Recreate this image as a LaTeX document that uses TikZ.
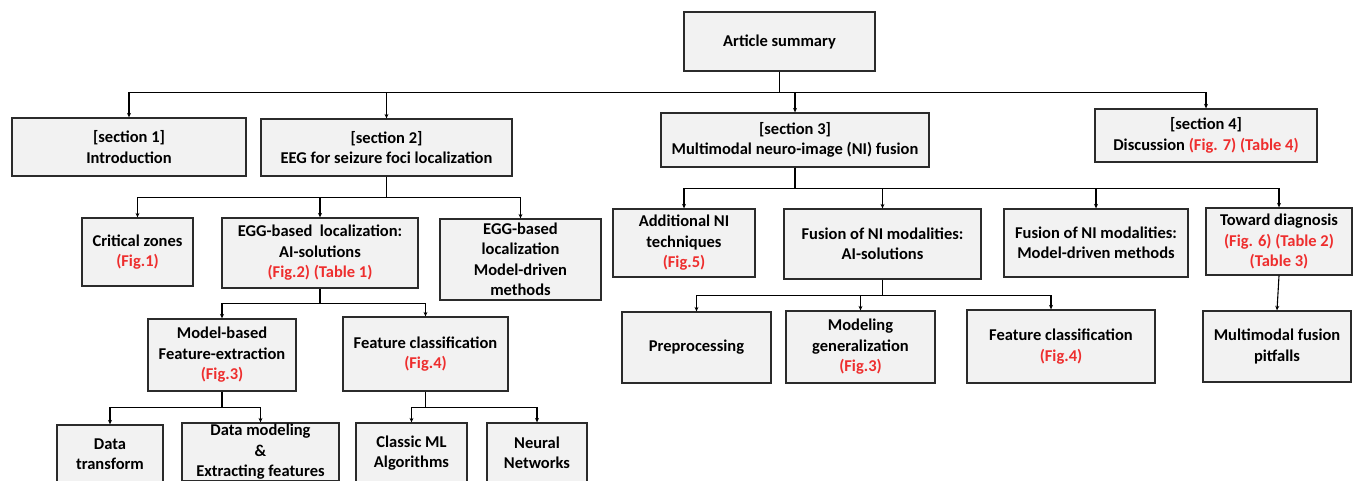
\documentclass[tikz,border=0pt]{standalone}
\usepackage{fontspec}
\setmainfont{Carlito}
\usetikzlibrary{arrows.meta}
\definecolor{boxfill}{HTML}{F2F2F2}
\definecolor{boxline}{HTML}{2B2B2B}
\definecolor{figred}{HTML}{EE2E2E}
\newcommand{\refred}[1]{\textcolor{figred}{#1}}

\begin{document}
\begin{tikzpicture}[x=1pt,y=-1pt,
  box/.style={draw=boxline,line width=1.3pt,fill=boxfill,align=center,inner sep=0pt,
    font=\bfseries\fontsize{16.5}{20.5}\selectfont},
  boxsize/.style 2 args={minimum width=#1pt,minimum height=#2pt},
  link/.style={-{Stealth[length=4.5pt,width=4pt]},line width=1.1pt}]
\useasboundingbox (0,0) rectangle (1355,480);
\clip (0,0) rectangle (1355,480);

% top levels
\node[box,boxsize={191}{59}] (summary) at (779.5,41.5) {Article summary};
\node[box,boxsize={234}{58}] (sec1) at (129,147) {[section 1]\\Introduction};
\node[box,boxsize={251}{57}] (sec2) at (386.5,147.5) {[section 2]\\EEG for seizure foci localization};
\node[box,boxsize={268}{54}] (sec3) at (795,140) {[section 3]\\Multimodal neuro-image (NI) fusion};
\node[box,boxsize={222}{53}] (sec4) at (1206,135.5) {[section 4]\\Discussion \refred{(Fig. 7) (Table 4)}};

% section 2 branch
\node[box,boxsize={111}{68}] (critical) at (137.5,252) {Critical zones\\\refred{(Fig.1)}};
\node[box,boxsize={196}{70}] (eegai) at (320,253) {EGG-based~ localization:\\AI-solutions\\\refred{(Fig.2) (Table 1)}};
\node[box,boxsize={161}{81}] (eegmodel) at (520.5,259.5) {EGG-based\\localization\\Model-driven\\methods};
\node[box,boxsize={148}{72}] (featextr) at (222,355) {Model-based\\Feature-extraction\\\refred{(Fig.3)}};
\node[box,boxsize={165}{74}] (featclass) at (425.5,354) {Feature classification\\\refred{(Fig.4)}};
\node[box,boxsize={106}{58}] (transform) at (110,454) {Data\\transform};
\node[box,boxsize={157}{58}] (datamodel) at (260.5,452) {Data modeling\\\&\\Extracting features};
\node[box,boxsize={111}{60}] (classic) at (411.5,453) {Classic ML\\Algorithms};
\node[box,boxsize={100}{60}] (neural) at (537,453) {Neural\\Networks};

% section 3 branch
\node[box,boxsize={142}{68}] (addni) at (684,243) {Additional NI\\techniques\\\refred{(Fig.5)}};
\node[box,boxsize={197}{70}] (fusai) at (882.5,244) {Fusion of NI modalities:\\AI-solutions};
\node[box,boxsize={184}{68}] (fusmodel) at (1096,243) {Fusion of NI modalities:\\Model-driven methods};
\node[box,boxsize={146}{67}] (diagnosis) at (1279,241.5) {Toward diagnosis\\\refred{(Fig. 6) (Table 2)}\\\refred{(Table 3)}};
\node[box,boxsize={149}{71}] (preproc) at (696.5,347.5) {Preprocessing};
\node[box,boxsize={149}{72}] (modgen) at (860.5,347) {Modeling\\generalization\\\refred{(Fig.3)}};
\node[box,boxsize={188}{73}] (fusclass) at (1061,346.5) {Feature classification\\\refred{(Fig.4)}};
\node[box,boxsize={148}{71}] (pitfalls) at (1277,346.5) {Multimodal fusion\\pitfalls};

% connectors
\draw[link] (summary.south) -- ++(0,21) -| (sec1.north);
\draw[link] (summary.south) -- ++(0,21) -| (sec2.north);
\draw[link] (summary.south) -- ++(0,21) -| (sec3.north);
\draw[link] (summary.south) -- ++(0,21) -| (sec4.north);

\draw[link] (sec2.south) -- ++(0,21) -| (critical.north);
\draw[link] (sec2.south) -- ++(0,21) -| (eegai.north);
\draw[link] (sec2.south) -- ++(0,21) -| (eegmodel.north);
\draw[link] (eegai.south) -- ++(0,15) -| (featextr.north);
\draw[link] (eegai.south) -- ++(0,15) -| (featclass.north);
\draw[link] (featextr.south) -- ++(0,16) -| (transform.north);
\draw[link] (featextr.south) -- ++(0,16) -| (datamodel.north);
\draw[link] (featclass.south) -- ++(0,16) -| (classic.north);
\draw[link] (featclass.south) -- ++(0,16) -| (neural.north);

\draw[link] (sec3.south) -- ++(0,21) -| (addni.north);
\draw[link] (sec3.south) -- ++(0,21) -| (fusai.north);
\draw[link] (sec3.south) -- ++(0,21) -| (fusmodel.north);
\draw[link] (sec3.south) -- ++(0,21) -| (diagnosis.north);
\draw[link] (fusai.south) -- ++(0,16) -| (preproc.north);
\draw[link] (fusai.south) -- ++(0,16) -| (modgen.north);
\draw[link] (fusai.south) -- ++(0,16) -| ([xshift=-10pt]fusclass.north);
\draw[link] (diagnosis.south) -- (pitfalls.north);
\end{tikzpicture}
\end{document}
